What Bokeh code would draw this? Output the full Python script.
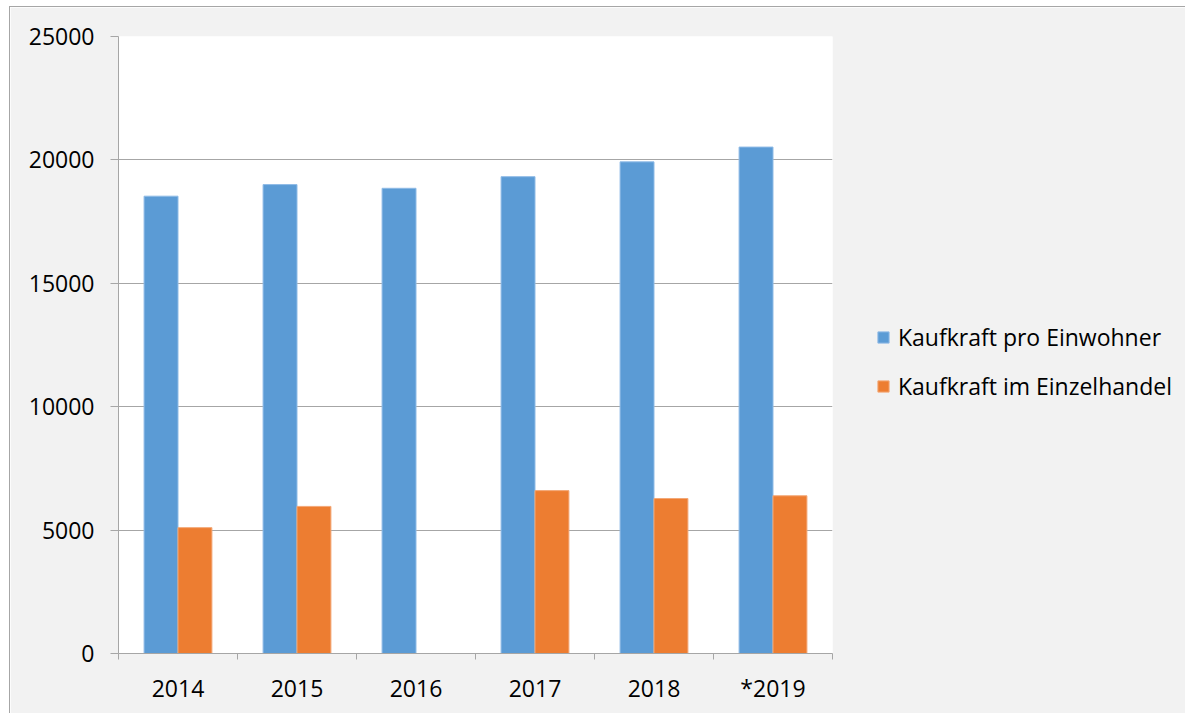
import numpy as np
from bokeh.plotting import figure
from bokeh.models import ColumnDataSource, FixedTicker, Range1d
from bokeh.transform import dodge
from bokeh.embed import file_html
from bokeh.resources import INLINE

# ---- data ----
years = ["2014", "2015", "2016", "2017", "2018", "*2019"]
kaufkraft_pro_einwohner = [18530, 19000, 18850, 19320, 19920, 20520]
kaufkraft_einzelhandel = [5100, 5960, float("nan"), 6600, 6280, 6390]
series_names = ["Kaufkraft pro Einwohner", "Kaufkraft im Einzelhandel"]
y_ticks = [0, 5000, 10000, 15000, 20000, 25000]

BLUE = "#5b9bd5"
ORANGE = "#ed7d31"
GRID = "#a6a6a6"
FONT = "Open Sans"

pos = np.arange(len(years)) + 0.5
src = ColumnDataSource(dict(x=pos, a=kaufkraft_pro_einwohner, b=kaufkraft_einzelhandel))

p = figure(frame_width=714, frame_height=617, output_backend="svg", toolbar_location=None,
           x_range=Range1d(0, len(years)), y_range=Range1d(0, 25000),
           min_border_left=108, min_border_right=0, min_border_top=29, min_border_bottom=60)

p.background_fill_color = "white"
p.border_fill_color = "#f2f2f2"
p.outline_line_color = None
p.styles = {"border-top": "1px solid #a6a6a6", "border-left": "1px solid #a6a6a6",
            "margin-left": "9px", "margin-top": "6px"}

bw = 0.285
p.vbar(x=dodge("x", -bw / 2), top="a", width=bw, source=src, fill_color=BLUE,
       line_color="#8fbbe6", line_width=1, legend_label=series_names[0])
p.vbar(x=dodge("x", bw / 2), top="b", width=bw, source=src, fill_color=ORANGE,
       line_color="#f3a877", line_width=1, legend_label=series_names[1])

# x axis: labels at centres, tick marks at category boundaries
xa = p.xaxis[0]
xa.ticker = FixedTicker(ticks=list(pos), minor_ticks=list(range(len(years) + 1)))
xa.major_label_overrides = {float(x): y for x, y in zip(pos, years)}
xa.major_tick_line_color = None
xa.major_tick_out = 0
xa.major_tick_in = 0
xa.minor_tick_line_color = GRID
xa.minor_tick_out = 6
xa.minor_tick_in = 0
xa.axis_line_color = GRID
xa.major_label_text_font = FONT
xa.major_label_text_font_size = "23px"
xa.major_label_text_color = "black"
xa.major_label_standoff = 12

ya = p.yaxis[0]
ya.ticker = FixedTicker(ticks=y_ticks, minor_ticks=[])
ya.major_label_overrides = {t: str(t) for t in y_ticks}
ya.major_tick_line_color = GRID
ya.major_tick_out = 8
ya.major_tick_in = 0
ya.axis_line_color = GRID
ya.major_label_text_font = FONT
ya.major_label_text_font_size = "23px"
ya.major_label_text_color = "black"
ya.major_label_standoff = 16

p.xgrid.grid_line_color = None
p.ygrid.grid_line_color = GRID
p.ygrid.grid_line_width = 1

lg = p.legend[0]
p.center.remove(lg)
lg.location = (44, 251)
lg.background_fill_alpha = 0
lg.border_line_color = None
lg.padding = 0
lg.margin = 0
lg.glyph_width = 14
lg.glyph_height = 14
lg.label_height = 26
lg.spacing = 17
lg.label_standoff = 8
lg.label_text_font = FONT
lg.label_text_font_size = "23px"
lg.label_text_color = "black"
p.add_layout(lg, "right")

open("out.html", "w").write(file_html(p, INLINE))
